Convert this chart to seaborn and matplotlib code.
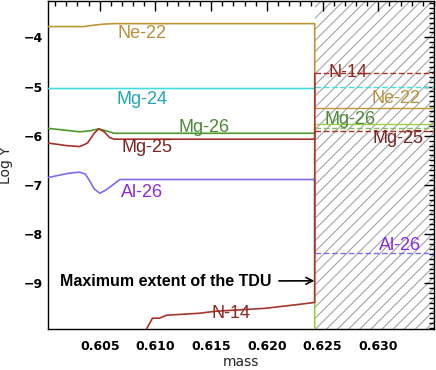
import numpy as np
import pandas as pd
import matplotlib
matplotlib.use("Agg")
import matplotlib.pyplot as plt
import seaborn as sns
from matplotlib.ticker import MultipleLocator

sns.set_style("white")
plt.rcParams["font.family"] = ["DejaVu Sans"]
plt.rcParams["hatch.linewidth"] = 0.8

# ---- data (mass coordinate, log abundance) ----
tdu_mass = 0.62430
x_max = 0.6350

ne22_m = [0.6004, 0.6036, 0.6045, 0.6054, 0.6063, 0.62429]
ne22_y = [-3.78, -3.78, -3.75, -3.73, -3.72, -3.72]
ne22_post = -5.44

mg24_m = [0.6004, 0.62429]
mg24_y = [-5.04, -5.04]
mg24_post = -5.00

mg26_m = [0.6004, 0.6020, 0.6032, 0.6041, 0.6049, 0.6054, 0.6063, 0.62429]
mg26_y = [-5.85, -5.89, -5.92, -5.90, -5.86, -5.89, -5.95, -5.95]
mg26_post = -5.85

mg25_m = [0.6004, 0.6020, 0.6032, 0.6039, 0.6045, 0.6049, 0.6054, 0.6059, 0.6063, 0.62429]
mg25_y = [-6.15, -6.20, -6.22, -6.15, -5.95, -5.86, -5.92, -6.04, -6.07, -6.07]
mg25_post = -5.91

al26_m = [0.6004, 0.6014, 0.6023, 0.6032, 0.6037, 0.6041, 0.6045, 0.6050, 0.6055, 0.6060, 0.6068, 0.62429]
al26_y = [-6.85, -6.80, -6.76, -6.74, -6.78, -6.92, -7.08, -7.17, -7.11, -7.03, -6.89, -6.89]
al26_post = -8.39

n14_m = [0.60890, 0.60973, 0.61036, 0.61098, 0.61393, 0.61536, 0.61982, 0.62286, 0.62429]
n14_y = [-10.05, -9.71, -9.71, -9.65, -9.61, -9.57, -9.51, -9.43, -9.39]
n14_post = -4.73

other_m = [0.62429]
other_y = [-10.5]
other_post = -5.77

# ---- styles ----
C_NE = "#BC9636"; T_NE = "#B8923A"
C_MG24 = "#45DEDE"; T_MG24 = "#1FA8B4"
C_MG26 = "#4E9A2C"; T_MG26 = "#4C8A38"
C_MG25 = "#A8302A"; T_MG25 = "#7C2420"
C_AL = "#7B6CF0"; T_AL = "#8A2BE2"
C_N14 = "#A8342C"; T_N14 = "#8E2A22"
C_OTHER = "#9ACD4A"

fig = plt.figure(figsize=(4.36, 3.70), dpi=100)
ax = fig.add_axes([48.3 / 436, 41 / 370, (434 - 48.3) / 436, 328.5 / 370])

ax.axvspan(tdu_mass, x_max, facecolor="white", edgecolor="#a4a4a4",
           hatch="///", linewidth=0, zorder=0)


def draw(m, y, post, color, post_ls, post_color=None, lw=1.2):
    xs = list(m) + [tdu_mass]
    ys = list(y) + [post]
    df = pd.DataFrame({"m": xs, "y": ys})
    sns.lineplot(data=df, x="m", y="y", ax=ax, color=color, sort=False,
                 estimator=None, linewidth=lw, zorder=3)
    df2 = pd.DataFrame({"m": [tdu_mass, x_max], "y": [post, post]})
    sns.lineplot(data=df2, x="m", y="y", ax=ax, color=post_color or color,
                 sort=False, estimator=None, linewidth=1.0, linestyle=post_ls,
                 zorder=3)


draw(other_m, other_y, other_post, C_OTHER, "-")
draw(ne22_m, ne22_y, ne22_post, C_NE, "-")
draw(mg24_m, mg24_y, mg24_post, C_MG24, (0, (4, 2)))
draw(mg26_m, mg26_y, mg26_post, C_MG26, (0, (4, 2)), post_color="#8CB860")
draw(mg25_m, mg25_y, mg25_post, C_MG25, (0, (4, 2)))
draw(al26_m, al26_y, al26_post, C_AL, (0, (4, 2)))
draw(n14_m, n14_y, n14_post, C_N14, (0, (4, 2)))

# ---- labels ----
lab_font = dict(family=["Liberation Sans", "DejaVu Sans"], fontsize=13,
                ha="center", va="center", zorder=5)
labels = [
    ("Ne-22", 0.60875, -3.92, T_NE),
    ("Mg-24", 0.60875, -5.26, T_MG24),
    ("Mg-26", 0.61440, -5.83, T_MG26),
    ("Mg-25", 0.60920, -6.24, T_MG25),
    ("Al-26", 0.60875, -7.15, T_AL),
    ("N-14", 0.61679, -9.61, T_N14),
    ("N-14", 0.62732, -4.71, T_N14),
    ("Ne-22", 0.63161, -5.24, T_NE),
    ("Mg-26", 0.62750, -5.67, T_MG26),
    ("Mg-25", 0.63179, -6.05, T_MG25),
    ("Al-26", 0.63196, -8.23, T_AL),
]
for txt, xm, yv, c in labels:
    ax.text(xm, yv, txt, color=c, **lab_font)

ax.annotate("Maximum extent of the TDU", xy=(tdu_mass - 0.00003, -8.95),
            xytext=(0.60143, -8.96), ha="left", va="center",
            fontsize=11.5, fontweight="bold",
            family=["Liberation Sans", "DejaVu Sans"], color="black",
            arrowprops=dict(arrowstyle="->", color="black", lw=1.2,
                            shrinkA=3, shrinkB=0, mutation_scale=12),
            zorder=6)

# ---- axes ----
ax.set_xlim(0.60038, x_max)
ax.set_ylim(-9.93, -3.25)
ax.xaxis.set_major_locator(MultipleLocator(0.005))
ax.xaxis.set_minor_locator(MultipleLocator(0.001))
ax.yaxis.set_major_locator(MultipleLocator(1))
ax.yaxis.set_minor_locator(MultipleLocator(0.1))
ax.set_xticks([0.605, 0.610, 0.615, 0.620, 0.625, 0.630])
ax.set_xticklabels(["0.605", "0.610", "0.615", "0.620", "0.625", "0.630"])
ax.set_yticks([-9, -8, -7, -6, -5, -4])
ax.set_yticklabels(["\u22129", "\u22128", "\u22127", "\u22126", "\u22125", "\u22124"])
ax.tick_params(which="both", direction="in", top=True, right=True,
               colors="black", width=1.0)
ax.tick_params(which="major", length=7)
ax.tick_params(which="minor", length=3.5)
ax.tick_params(axis="x", which="major", pad=8)
ax.tick_params(axis="y", which="major", pad=4)
for lbl in ax.get_xticklabels() + ax.get_yticklabels():
    lbl.set_fontweight("bold")
    lbl.set_fontsize(9)
for sp in ax.spines.values():
    sp.set_color("black")
    sp.set_linewidth(1.0)

ax.set_xlabel("mass", fontsize=10)
ax.set_ylabel("Log Y", fontsize=10)
ax.xaxis.set_label_coords(0.5, -0.080)
ax.yaxis.set_label_coords(-0.092, 0.5)

fig.savefig("out.png", dpi=100)
